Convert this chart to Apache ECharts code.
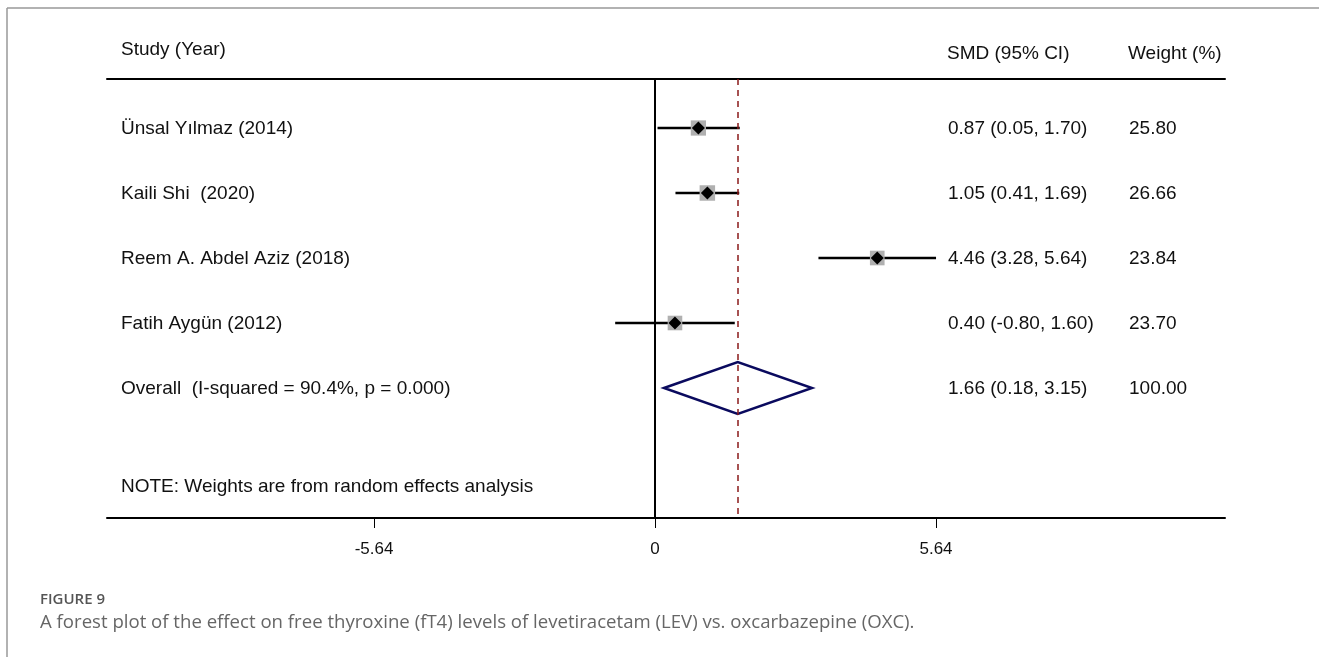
<!DOCTYPE html>
<html>
<head>
    <meta charset="utf-8">
    <title>Forest plot</title>
    <script src="https://cdn.jsdelivr.net/npm/echarts@6/dist/echarts.min.js"></script>
    <style>
        body { margin: 0; background: #fff; }
    </style>
</head>
<body>
    <div id="main" style="width: 1319px;height: 657px;"></div>
    <script type="text/javascript">
        // study rows
        var studies = ['Ünsal Yılmaz (2014)', 'Kaili Shi  (2020)', 'Reem A. Abdel Aziz (2018)', 'Fatih Aygün (2012)'];
        var smd = [0.87, 1.05, 4.46, 0.40];
        var lower = [0.05, 0.41, 3.28, -0.80];
        var upper = [1.70, 1.69, 5.64, 1.60];
        var weights = ['25.80', '26.66', '23.84', '23.70'];
        var ciText = ['0.87 (0.05, 1.70)', '1.05 (0.41, 1.69)', '4.46 (3.28, 5.64)', '0.40 (-0.80, 1.60)'];

        // pooled estimate
        var overallLabel = 'Overall  (I-squared = 90.4%, p = 0.000)';
        var overall = [1.66, 0.18, 3.15];
        var overallText = '1.66 (0.18, 3.15)';
        var overallWeight = '100.00';

        var tickValues = [-5.64, 0, 5.64];
        var tickLabels = ['-5.64', '0', '5.64'];

        var font = 'Liberation Sans, Arial, sans-serif';
        var textCol = '#111';

        var myChart = echarts.init(document.getElementById('main'));

        var rows = [];
        for (var i = 0; i < studies.length; i++) {
            rows.push([i + 1, smd[i], lower[i], upper[i], parseFloat(weights[i])]);
        }
        var overallRow = studies.length + 1;

        function rowText(x, y, s) {
            return { type: 'text', style: { x: x, y: y + 1, text: s, fill: textCol, font: '19px ' + font, textVerticalAlign: 'middle' } };
        }

        var option = {
            animation: false,
            backgroundColor: '#fff',
            grid: { left: 107, right: 94, top: 79, bottom: 139 },
            xAxis: [{
                type: 'value', min: -11, max: 11.44,
                splitLine: { show: false },
                axisLine: { show: true, onZero: false, lineStyle: { color: '#000', width: 2 } },
                axisTick: { show: true, length: 10, customValues: tickValues, lineStyle: { color: '#000', width: 1 } },
                axisLabel: {
                    customValues: tickValues, margin: 23, color: textCol, fontSize: 17, fontFamily: font,
                    formatter: function (v) { return tickLabels[tickValues.indexOf(v)] !== undefined ? tickLabels[tickValues.indexOf(v)] : String(v); }
                }
            }, {
                type: 'value', position: 'top', min: -11, max: 11.44,
                splitLine: { show: false },
                axisLine: { show: true, onZero: false, lineStyle: { color: '#000', width: 2 } },
                axisTick: { show: false }, axisLabel: { show: false }
            }],
            yAxis: {
                type: 'value', inverse: true, min: 0.246, max: 7,
                show: false
            },
            graphic: [
                { type: 'line', shape: { x1: 7, y1: 8, x2: 1319, y2: 8 }, style: { stroke: '#999', lineWidth: 1.5 } },
                { type: 'line', shape: { x1: 7, y1: 8, x2: 7, y2: 657 }, style: { stroke: '#999', lineWidth: 1.5 } },
                { type: 'text', style: { x: 121, y: 50, text: 'Study (Year)', fill: textCol, font: '19px ' + font, textVerticalAlign: 'middle' } },
                { type: 'text', style: { x: 947, y: 54, text: 'SMD (95% CI)', fill: textCol, font: '19px ' + font, textVerticalAlign: 'middle' } },
                { type: 'text', style: { x: 1128, y: 54, text: 'Weight (%)', fill: textCol, font: '19px ' + font, textVerticalAlign: 'middle' } },
                { type: 'text', style: { x: 40, y: 600, text: 'FIGURE 9', fill: '#555', font: '600 15px "Open Sans", sans-serif', textVerticalAlign: 'middle' } },
                { type: 'text', style: { x: 40, y: 623, text: 'A forest plot of the effect on free thyroxine (fT4) levels of levetiracetam (LEV) vs. oxcarbazepine (OXC).', fill: '#666', font: '18.6px "Open Sans", sans-serif', textVerticalAlign: 'middle' } }
            ],
            series: [{
                // reference lines
                type: 'line', data: [], silent: true,
                markLine: {
                    symbol: 'none', silent: true, label: { show: false },
                    data: [
                        { xAxis: 0, lineStyle: { color: '#000', width: 2, type: 'solid' } },
                        { xAxis: overall[0], lineStyle: { color: '#8b1a1a', width: 1.5, type: [6, 5] } }
                    ]
                }
            }, {
                // studies: CI line, weight box, point estimate, text columns
                type: 'custom', data: rows,
                renderItem: function (params, api) {
                    var r = api.value(0);
                    var p = api.coord([api.value(1), r]);
                    var lo = api.coord([api.value(2), r]);
                    var hi = api.coord([api.value(3), r]);
                    var idx = params.dataIndex;
                    var bs = 15 * Math.sqrt(api.value(4) / 25);
                    var d = 6.5;
                    return {
                        type: 'group', children: [
                            { type: 'line', shape: { x1: lo[0], y1: lo[1], x2: hi[0], y2: hi[1] }, style: { stroke: '#000', lineWidth: 2.5 } },
                            { type: 'rect', shape: { x: p[0] - bs / 2, y: p[1] - bs / 2, width: bs, height: bs }, style: { fill: '#b0b0b0' } },
                            { type: 'polygon', shape: { points: [[p[0] - d, p[1]], [p[0], p[1] - d], [p[0] + d, p[1]], [p[0], p[1] + d]] }, style: { fill: '#000' } },
                            rowText(121, p[1], studies[idx]),
                            rowText(948, p[1], ciText[idx]),
                            rowText(1129, p[1], weights[idx])
                        ]
                    };
                }
            }, {
                // pooled diamond
                type: 'custom', data: [[overallRow, overall[0], overall[1], overall[2]]],
                renderItem: function (params, api) {
                    var r = api.value(0);
                    var c = api.coord([api.value(1), r]);
                    var lo = api.coord([api.value(2), r]);
                    var hi = api.coord([api.value(3), r]);
                    var h = 26;
                    return {
                        type: 'group', children: [
                            { type: 'polygon', shape: { points: [[lo[0], c[1]], [c[0], c[1] - h], [hi[0], c[1]], [c[0], c[1] + h]] }, style: { fill: 'none', stroke: '#0a0a5e', lineWidth: 2.5 } },
                            rowText(121, c[1], overallLabel),
                            rowText(948, c[1], overallText),
                            rowText(1129, c[1], overallWeight)
                        ]
                    };
                }
            }, {
                // footnote
                type: 'custom', data: [[6.51]],
                renderItem: function (params, api) {
                    var c = api.coord([0, api.value(0)]);
                    return rowText(121, c[1], 'NOTE: Weights are from random effects analysis');
                }
            }]
        };

        myChart.setOption(option);
    </script>
</body>
</html>
